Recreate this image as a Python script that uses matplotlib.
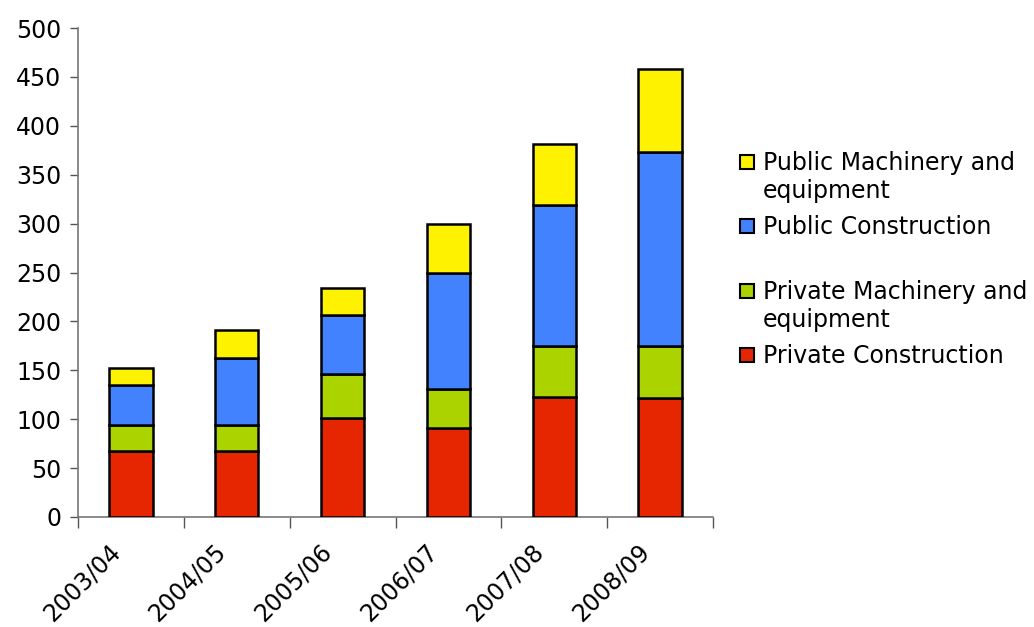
import matplotlib
matplotlib.use("Agg")
import matplotlib.pyplot as plt
from matplotlib.patches import Rectangle
import matplotlib.transforms as mtransforms
import numpy as np

categories = ["2003/04", "2004/05", "2005/06", "2006/07", "2007/08", "2008/09"]
private_construction = [67, 67, 101, 91, 123, 122]
private_machinery = [27, 27, 45, 40, 52, 53]
public_construction = [41, 69, 61, 118, 144, 198]
public_machinery = [17, 28, 27, 51, 62, 85]

series = [
    ("Private Construction", private_construction, "#E52600"),
    ("Private Machinery and\nequipment", private_machinery, "#AAD300"),
    ("Public Construction", public_construction, "#4282FF"),
    ("Public Machinery and\nequipment", public_machinery, "#FFF200"),
]

plt.rcParams['font.family'] = ['DejaVu Sans']
fig = plt.figure(figsize=(10.34, 6.27), dpi=100)
ax = fig.add_axes([78/1034, 1-517/627, 635/1034, 489/627])

x = np.arange(len(categories))
bottom = np.zeros(len(categories))
for name, vals, col in series:
    ax.bar(x, vals, bottom=bottom, width=0.41, color=col, edgecolor='black', linewidth=1.8, zorder=3)
    bottom += np.array(vals)

ax.set_xlim(-0.5, len(categories) - 0.5)
ax.set_ylim(0, 500)
ax.set_yticks(np.arange(0, 501, 50))
ax.tick_params(axis='y', labelsize=17, length=6, width=1, color='#555555', direction='out', pad=6)
ax.set_xticks(x)
ax.set_xticklabels(categories, rotation=45, ha='right', va='top', fontsize=17)
ax.tick_params(axis='x', length=0, pad=16)
offset = mtransforms.ScaledTranslation(-6/100, 0, fig.dpi_scale_trans)
for lab in ax.get_xticklabels():
    lab.set_transform(lab.get_transform() + offset)
ax.set_xticks(np.arange(-0.5, len(categories), 1), minor=True)
ax.tick_params(axis='x', which='minor', length=8, width=1, color='#555555', direction='out')
for s in ['top', 'right']:
    ax.spines[s].set_visible(False)
for s in ['left', 'bottom']:
    ax.spines[s].set_color('#777777')
    ax.spines[s].set_linewidth(1.2)

# Legend (manual placement)
legend_items = [
    (series[3][0], series[3][2], 162),
    (series[2][0], series[2][2], 226),
    (series[1][0], series[1][2], 291),
    (series[0][0], series[0][2], 355),
]
W, H = 1034, 627
for label, col, ypix in legend_items:
    r = Rectangle((740/W, 1-(ypix+7)/H), 14/W, 14/H, transform=fig.transFigure,
                  facecolor=col, edgecolor='black', linewidth=1.5)
    fig.patches.append(r)
    fig.text(763/W, 1-(ypix-11)/H, label, fontsize=17, va='top', ha='left', linespacing=1.2)

fig.savefig("out.png", dpi=100)
